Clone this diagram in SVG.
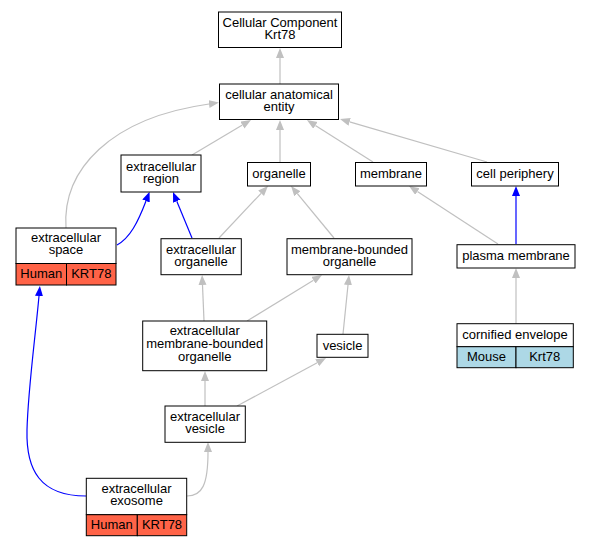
<svg xmlns="http://www.w3.org/2000/svg" width="591" height="547" viewBox="0 0 591 547">
<style>
.n{fill:#fff;stroke:#000;stroke-width:1}
.h{fill:#ff6347;stroke:#000;stroke-width:1}
.m{fill:#add8e6;stroke:#000;stroke-width:1}
text{font-family:"Liberation Sans",Arial,sans-serif;font-size:13px;text-anchor:middle;fill:#000}
.g{fill:none;stroke:#c0c0c0;stroke-width:1.2;marker-end:url(#ag)}
.b{fill:none;stroke:#0000ff;stroke-width:1.2;marker-end:url(#ab)}
</style>
<defs>
<marker id="ag" markerUnits="userSpaceOnUse" markerWidth="12" markerHeight="10" refX="0" refY="4" orient="auto"><path d="M0,0 L10,4 L0,8 z" fill="#c0c0c0"/></marker>
<marker id="ab" markerUnits="userSpaceOnUse" markerWidth="12" markerHeight="10" refX="0" refY="4" orient="auto"><path d="M0,0 L10,4 L0,8 z" fill="#0000ff"/></marker>
</defs>
<rect width="591" height="547" fill="#fff"/>
<g id="edges">
<path class="g" d="M280,84 L280,58"/>
<path class="g" d="M192,155 L242.4,125.1"/>
<path class="g" d="M280,162 L280,130"/>
<path class="g" d="M373,162 L315.4,125.4"/>
<path class="g" d="M487,162 L349.6,121.8"/>
<path class="g" d="M66,228 C62,170 110,118 209,104"/>
<path class="b" d="M117,245 C130,238 138,222 146,201"/>
<path class="b" d="M192,238 L176.8,201.2"/>
<path class="g" d="M219,238 L261.1,193.3"/>
<path class="g" d="M334,238 L297.4,193.7"/>
<path class="g" d="M498,244 L417.4,191.5"/>
<path class="b" d="M516,244 L516,196"/>
<path class="g" d="M516,324 L516,278"/>
<path class="g" d="M204,321 L202.5,285"/>
<path class="g" d="M247,321 L313.5,280.2"/>
<path class="g" d="M343,334 L348,285"/>
<path class="g" d="M205,406 L205,381"/>
<path class="g" d="M237,406 L317.2,362.8"/>
<path class="g" d="M187,496 C202,496 208,485 208,452"/>
<path class="b" d="M86,496 C40,496 26,470 27,430 C28,390 35,340 39,296"/>
</g>
<g id="cc"><rect class="n" x="218.5" y="12" width="123" height="35.5"/><text x="280" y="26.7">Cellular Component</text><text x="280" y="38.7">Krt78</text></g>
<g id="cae"><rect class="n" x="219.5" y="84" width="119" height="35.5"/><text x="279" y="98.7">cellular anatomical</text><text x="279" y="110.7">entity</text></g>
<g id="er"><rect class="n" x="121" y="155" width="80" height="37"/><text x="161" y="170.5">extracellular</text><text x="161" y="182.5">region</text></g>
<g id="org"><rect class="n" x="247.5" y="162.5" width="63" height="23.5"/><text x="279" y="177.8">organelle</text></g>
<g id="mem"><rect class="n" x="355.5" y="162.5" width="71" height="23.5"/><text x="391" y="177.8">membrane</text></g>
<g id="cp"><rect class="n" x="471.5" y="162.5" width="87" height="23.5"/><text x="515" y="177.8">cell periphery</text></g>
<g id="es"><rect class="n" x="16" y="228" width="100" height="35.5"/><rect class="h" x="16" y="263.5" width="50.5" height="21.5"/><rect class="h" x="66.5" y="263.5" width="49.5" height="21.5"/><text x="66" y="242">extracellular</text><text x="66" y="254.3">space</text><text x="41.3" y="277.5">Human</text><text x="91.3" y="277.5">KRT78</text></g>
<g id="eo"><rect class="n" x="161" y="238.7" width="80.3" height="36"/><text x="201" y="253.5">extracellular</text><text x="201" y="265.5">organelle</text></g>
<g id="mbo"><rect class="n" x="287" y="238.7" width="125" height="36"/><text x="349.5" y="253.5">membrane-bounded</text><text x="349.5" y="265.5">organelle</text></g>
<g id="pm"><rect class="n" x="457" y="244.7" width="118" height="23.3"/><text x="516" y="260">plasma membrane</text></g>
<g id="embo"><rect class="n" x="142.7" y="321" width="124" height="49.7"/><text x="204.7" y="335">extracellular</text><text x="204.7" y="348">membrane-bounded</text><text x="204.7" y="361">organelle</text></g>
<g id="ves"><rect class="n" x="317" y="334.3" width="51" height="23"/><text x="342.5" y="349.5">vesicle</text></g>
<g id="ce"><rect class="n" x="457" y="323.7" width="116.3" height="23"/><rect class="m" x="457" y="346.7" width="59" height="21"/><rect class="m" x="516" y="346.7" width="57.3" height="21"/><text x="515" y="338.8">cornified envelope</text><text x="486.5" y="360.8">Mouse</text><text x="544.7" y="360.8">Krt78</text></g>
<g id="ev"><rect class="n" x="165" y="406" width="80.3" height="36.3"/><text x="205" y="420.8">extracellular</text><text x="205" y="433">vesicle</text></g>
<g id="ee"><rect class="n" x="86.3" y="478.3" width="100.4" height="36.4"/><rect class="h" x="86.3" y="514.7" width="51" height="21"/><rect class="h" x="137.3" y="514.7" width="49.4" height="21"/><text x="136.5" y="492.8">extracellular</text><text x="136.5" y="505">exosome</text><text x="111.8" y="528.5">Human</text><text x="162" y="528.5">KRT78</text></g>
</svg>
